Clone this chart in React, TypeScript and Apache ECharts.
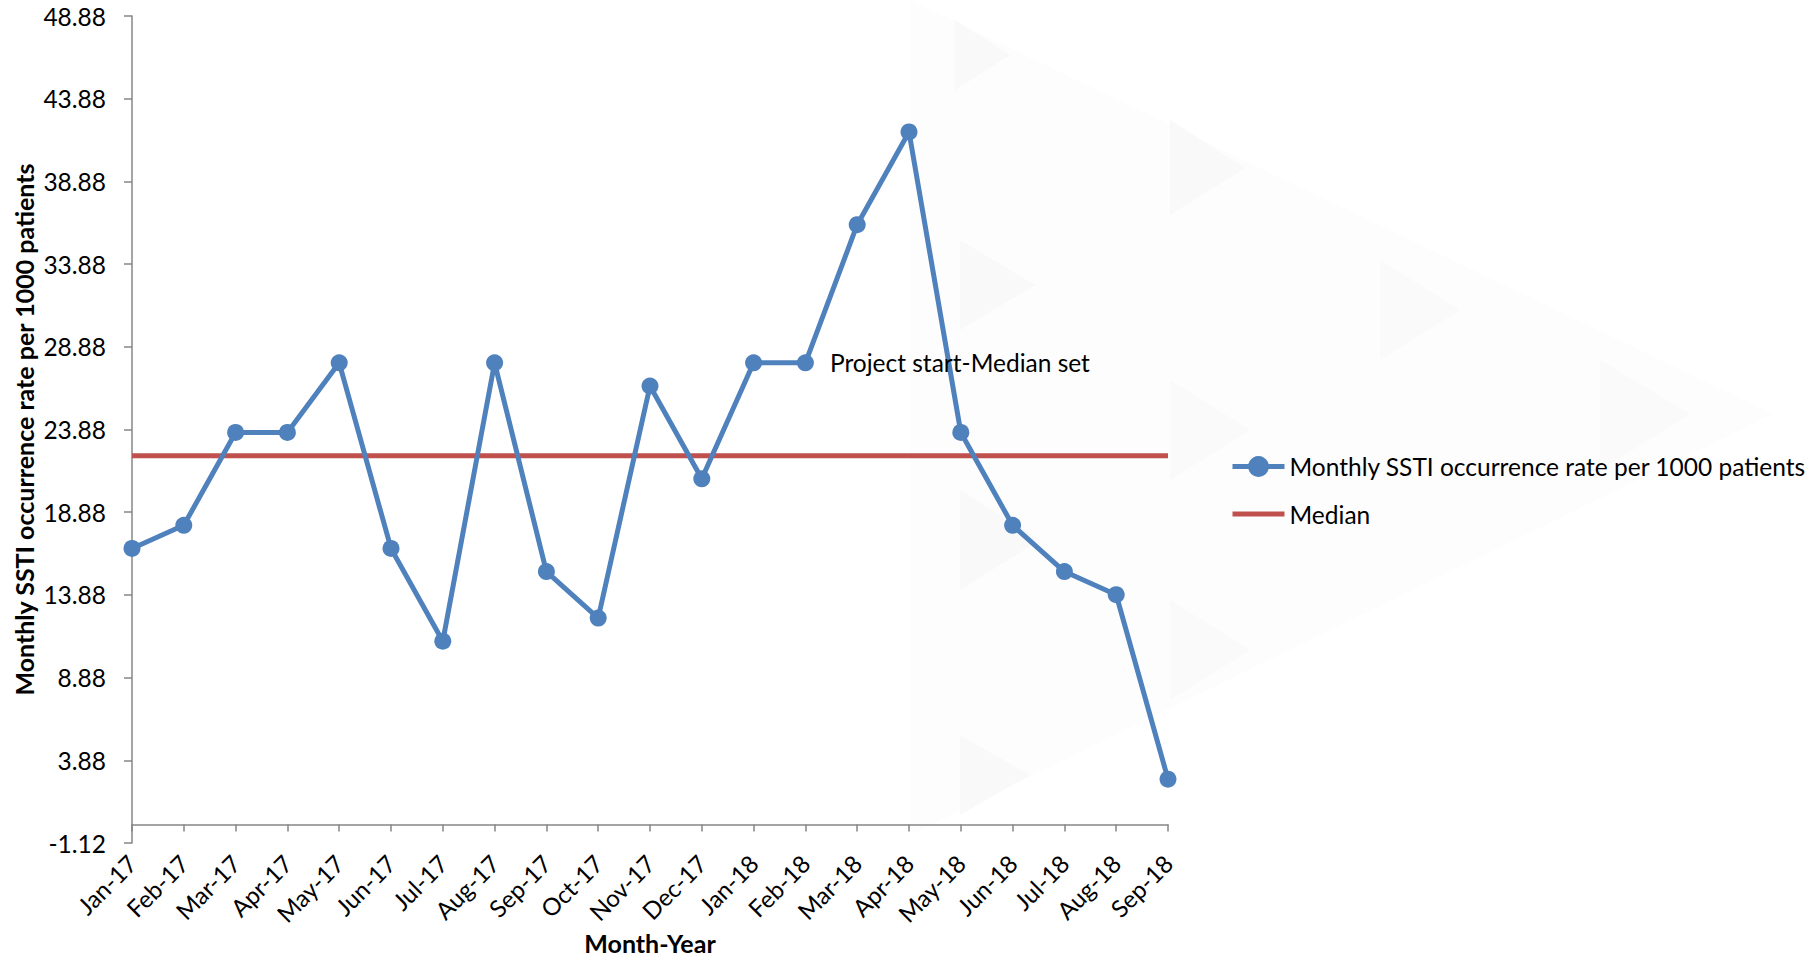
import React, { useEffect, useRef } from "react";
import * as echarts from "echarts";

const months = [
  "Jan-17", "Feb-17", "Mar-17", "Apr-17", "May-17", "Jun-17", "Jul-17",
  "Aug-17", "Sep-17", "Oct-17", "Nov-17", "Dec-17", "Jan-18", "Feb-18",
  "Mar-18", "Apr-18", "May-18", "Jun-18", "Jul-18", "Aug-18", "Sep-18",
];

const rates = [
  16.69, 18.09, 23.7, 23.7, 27.91, 16.69, 11.08, 27.91, 15.29, 12.48,
  26.51, 20.9, 27.91, 27.91, 36.26, 41.87, 23.7, 18.09, 15.29, 13.89, 2.74,
];

const medianValue = 22.3;
const medianLine = months.map(() => medianValue);

const annotationIndex = 13;
const annotationText = "Project start-Median set";

const seriesNames = ["Monthly SSTI occurrence rate per 1000 patients", "Median"];
const yMin = -1.12;
const yMax = 48.88;
const yStep = 5;

const FONT = "Lato, 'Open Sans', sans-serif";

export default function App() {
  const ref = useRef<HTMLDivElement>(null);

  useEffect(() => {
    if (!ref.current) return;
    const chart = echarts.init(ref.current, undefined, { renderer: "svg" });

    const wm = (pts: number[][], fill: string) => ({
      type: "polygon",
      z: -10,
      silent: true,
      shape: { points: pts },
      style: { fill },
    });

    chart.setOption({
      animation: false,
      backgroundColor: "#ffffff",
      textStyle: { fontFamily: FONT },
      graphic: {
        elements: [
          wm([[910, 0], [1773, 414], [910, 835]], "#fdfdfd"),
          wm([[955, 20], [955, 90], [1010, 55]], "#f9f9f9"),
          wm([[1170, 120], [1170, 215], [1245, 168]], "#f9f9f9"),
          wm([[960, 240], [960, 330], [1035, 285]], "#f9f9f9"),
          wm([[1380, 260], [1380, 360], [1460, 310]], "#fafafa"),
          wm([[1600, 360], [1600, 470], [1690, 414]], "#fafafa"),
          wm([[1170, 380], [1170, 480], [1250, 430]], "#fafafa"),
          wm([[960, 490], [960, 590], [1040, 540]], "#f9f9f9"),
          wm([[1170, 600], [1170, 700], [1250, 650]], "#fafafa"),
          wm([[960, 735], [960, 815], [1030, 775]], "#f9f9f9"),
        ],
      },
      grid: {
        left: 132,
        right: 649,
        top: 16,
        bottom: 115,
        containLabel: false,
        outerBoundsMode: "none",
      },
      legend: {
        orient: "vertical",
        left: 1225,
        top: 449,
        itemWidth: 52,
        itemHeight: 26,
        itemGap: 22,
        lineStyle: { width: 5 },
        data: [
          { name: seriesNames[0] },
          {
            name: seriesNames[1],
            icon: "path://M0,0L0.01,0M0,10.5L52,10.5L52,15.5L0,15.5ZM52,26L51.99,26",
          },
        ],
        textStyle: { fontSize: 24.5, color: "#000", fontFamily: FONT },
      },
      xAxis: {
        type: "category",
        data: months,
        boundaryGap: false,
        name: "Month-Year",
        nameLocation: "middle",
        nameGap: 87,
        nameMoveOverlap: false,
        nameTextStyle: { fontSize: 25, fontWeight: "bold", color: "#000", fontFamily: FONT },
        axisLine: { onZero: true, lineStyle: { color: "#868686", width: 1.5 } },
        axisTick: { show: true, length: 7, alignWithLabel: true, lineStyle: { color: "#868686", width: 1.5 } },
        axisLabel: { rotate: 45, fontSize: 24, color: "#000", margin: 16, interval: 0, fontFamily: FONT },
        splitLine: { show: false },
      },
      yAxis: {
        type: "value",
        min: yMin,
        max: yMax,
        interval: yStep,
        name: "Monthly SSTI occurrence rate per 1000 patients",
        nameLocation: "middle",
        nameGap: 96,
        nameMoveOverlap: false,
        nameTextStyle: { fontSize: 25, fontWeight: "bold", color: "#000", fontFamily: FONT },
        axisLine: { show: true, lineStyle: { color: "#868686", width: 1.5 } },
        axisTick: { show: true, length: 8, lineStyle: { color: "#868686", width: 1.5 } },
        axisLabel: {
          fontSize: 24.5,
          color: "#000",
          margin: 26,
          fontFamily: FONT,
          formatter: (v: number) => v.toFixed(2),
        },
        splitLine: { show: false },
      },
      series: [
        {
          name: seriesNames[0],
          type: "line",
          data: rates.map((v, i) =>
            i === annotationIndex
              ? {
                  value: v,
                  label: {
                    show: true,
                    position: "right",
                    distance: 16,
                    formatter: annotationText,
                    fontSize: 24.5,
                    color: "#000",
                    fontFamily: FONT,
                  },
                }
              : v
          ),
          symbol: "circle",
          symbolSize: 17,
          lineStyle: { color: "#4F81BD", width: 5 },
          itemStyle: { color: "#4F81BD" },
          z: 4,
        },
        {
          name: seriesNames[1],
          type: "line",
          data: medianLine,
          symbol: "none",
          showSymbol: false,
          lineStyle: { color: "#C0504D", width: 5 },
          itemStyle: { color: "#C0504D" },
          z: 3,
        },
      ],
    });

    return () => chart.dispose();
  }, []);

  return (
    <div
      ref={ref}
      style={{ position: "fixed", left: 0, top: 0, width: 1817, height: 958, background: "#fff" }}
    />
  );
}
